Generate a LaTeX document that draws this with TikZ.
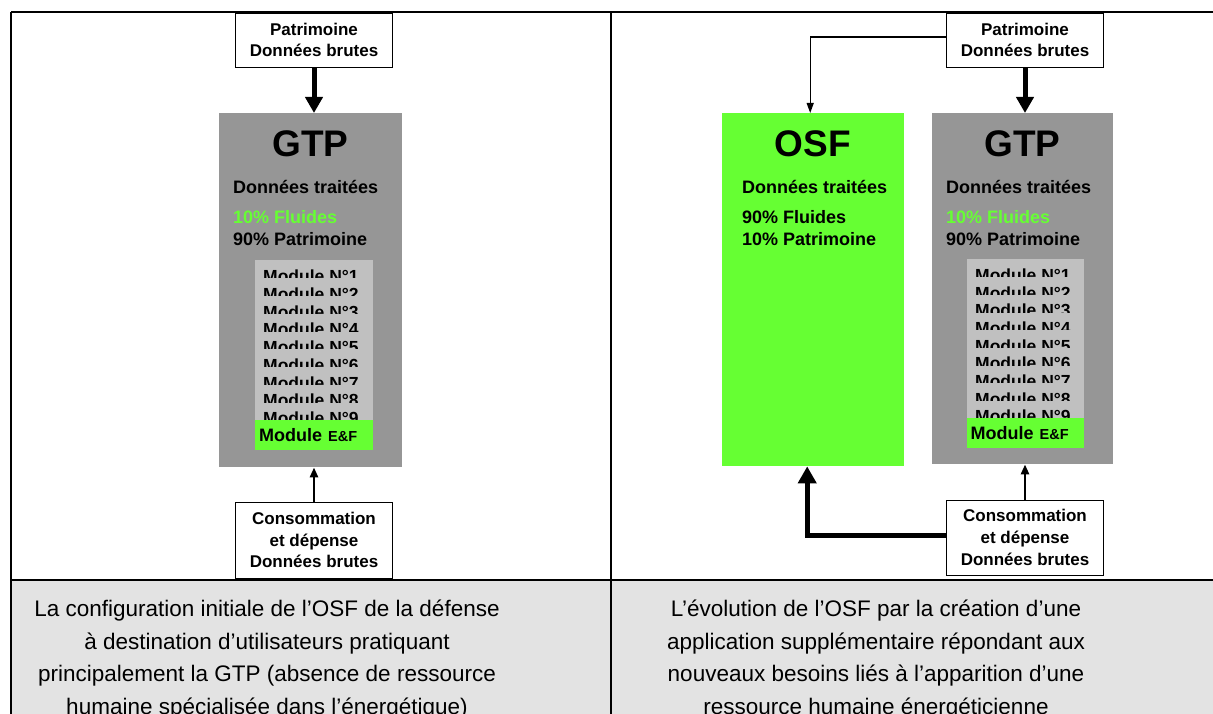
\documentclass[tikz,border=0pt]{standalone}
\usepackage{fontspec}
\setmainfont{Liberation Sans}
\usetikzlibrary{arrows.meta}
\definecolor{gtpgray}{RGB}{150,150,150}
\definecolor{modgray}{RGB}{192,192,192}
\definecolor{osfgreen}{RGB}{102,255,51}
\definecolor{capgray}{RGB}{227,227,227}
\tikzset{
  rawbox/.style={draw, line width=0.8pt, fill=white, inner sep=0pt, align=center,
    minimum width=157pt, font=\bfseries\fontsize{17}{21.7}\selectfont},
  appbox/.style={inner sep=0pt, anchor=north west, minimum width=#1},
  modbox/.style={fill=modgray, inner sep=0pt, anchor=north west, minimum width=118pt, minimum height=160pt},
  efbox/.style={fill=osfgreen, inner sep=0pt, anchor=north west, minimum width=118pt, minimum height=30pt,
    text width=110pt, align=left, font=\bfseries\fontsize{18}{20}\selectfont},
  title/.style={anchor=base, inner sep=0pt, font=\bfseries\fontsize{37}{42}\selectfont},
  info/.style={anchor=base west, inner sep=0pt, font=\bfseries\fontsize{18}{22}\selectfont},
  modtext/.style={anchor=base west, inner sep=0pt, font=\bfseries\fontsize{17.5}{20}\selectfont},
  caption/.style={anchor=north, inner sep=0pt, align=center, font=\fontsize{22.5}{32.5}\selectfont},
  thickarrow/.style={line width=5pt, -{Triangle[width=17pt,length=16pt]}},
  thinarrow/.style={line width=2.6pt, -{Triangle[width=8pt,length=10pt]}},
  fineline/.style={line width=1.3pt, -{Triangle[width=7pt,length=10pt]}},
  rule/.style={line width=1.8pt}
}
\begin{document}
\begin{tikzpicture}[x=1pt,y=-1pt]
\useasboundingbox (0,0) rectangle (1213,714);
\clip (0,0) rectangle (1213,714);

% caption row background
\fill[capgray] (11,580) rectangle (1213,714);

% ---------------- left panel ----------------
\node[rawbox, minimum height=54pt] (rawL) at (314,40) {Patrimoine\\Données brutes};
\node[appbox=183pt, minimum height=354pt, fill=gtpgray] (gtpL) at (219,113) {};
\node[title] (gtpLt) at (310.5,157) {GTP};
\node[info] (dtL) at (233,194) {Données traitées};
\node[info, text=osfgreen] (flL) at (233,224) {10\% Fluides};
\node[info] (paL) at (233,246) {90\% Patrimoine};
\node[modbox] (modL) at (255,260) {};
\foreach \i in {1,...,9} {
  \begin{scope}
    \clip (255,{260+(\i-1)*17.78}) rectangle ++(118,17.78);
    \node[modtext] (mL\i) at (263,{260+(\i-1)*17.78+22.5}) {Module N°\i};
  \end{scope}
}
\node[efbox] (efL) at (255,420) {Module {\fontsize{14.5}{16}\selectfont E\&F}};
\node[rawbox, minimum height=76pt] (consL) at (314,540) {Consommation\\ et dépense\\Données brutes};

\draw[thickarrow] (rawL.south) -- (rawL.south |- gtpL.north);
\draw[thinarrow] (consL.north) -- (consL.north |- gtpL.south);

% ---------------- right panel ----------------
\node[rawbox, minimum height=54pt] (rawR) at (1025,40) {Patrimoine\\Données brutes};
\node[appbox=182pt, minimum height=353pt, fill=osfgreen] (osf) at (722,113) {};
\node[title] (osft) at (813,157) {OSF};
\node[info] (dtO) at (742,194) {Données traitées};
\node[info] (flO) at (742,224) {90\% Fluides};
\node[info] (paO) at (742,246) {10\% Patrimoine};

\node[appbox=181pt, minimum height=351pt, fill=gtpgray] (gtpR) at (932,113) {};
\node[title] (gtpRt) at (1022.5,157) {GTP};
\node[info] (dtR) at (946,194) {Données traitées};
\node[info, text=osfgreen] (flR) at (946,224) {10\% Fluides};
\node[info] (paR) at (946,246) {90\% Patrimoine};
\node[modbox, minimum width=117pt, minimum height=159pt] (modR) at (967,259) {};
\foreach \i in {1,...,9} {
  \begin{scope}
    \clip (967,{259+(\i-1)*17.67}) rectangle ++(117,17.67);
    \node[modtext] (mR\i) at (975,{259+(\i-1)*17.67+22.5}) {Module N°\i};
  \end{scope}
}
\node[efbox, minimum width=117pt] (efR) at (967,418) {Module {\fontsize{14.5}{16}\selectfont E\&F}};
\node[rawbox, minimum height=75pt] (consR) at (1025,537.5) {Consommation\\ et dépense\\Données brutes};

\draw[thickarrow] (rawR.south) -- (rawR.south |- gtpR.north);
\draw[thinarrow] (consR.north) -- (consR.north |- gtpR.south);
\draw[fineline] ([yshift=3pt]rawR.west) -| ([xshift=-3pt]osf.north);
\draw[thickarrow, -{Triangle[width=18pt,length=17pt]}] ([yshift=2.5pt]consR.west) -| ([xshift=-6pt]osf.south);

% ---------------- table rules ----------------
\coordinate (tl) at (11,12);
\coordinate (tr) at (1213,12);
\coordinate (bl) at (11,714);
\coordinate (tm) at (611,12);
\coordinate (bm) at (611,714);
\coordinate (ml) at (11,580);
\coordinate (mr) at (1213,580);
\draw[rule] (tl) -- (tr);
\draw[rule] (tl) -- (bl);
\draw[rule] (tm) -- (bm);
\draw[rule] (ml) -- (mr);

% ---------------- captions ----------------
\node[caption] (capL) at (267,600) {La configuration initiale de l’OSF de la défense\\à destination d’utilisateurs pratiquant\\principalement la GTP (absence de ressource\\humaine spécialisée dans l’énergétique)};
\node[caption] (capR) at (876,600) {L’évolution de l’OSF par la création d’une\\application supplémentaire répondant aux\\nouveaux besoins liés à l’apparition d’une\\ressource humaine énergéticienne};
\end{tikzpicture}
\end{document}
